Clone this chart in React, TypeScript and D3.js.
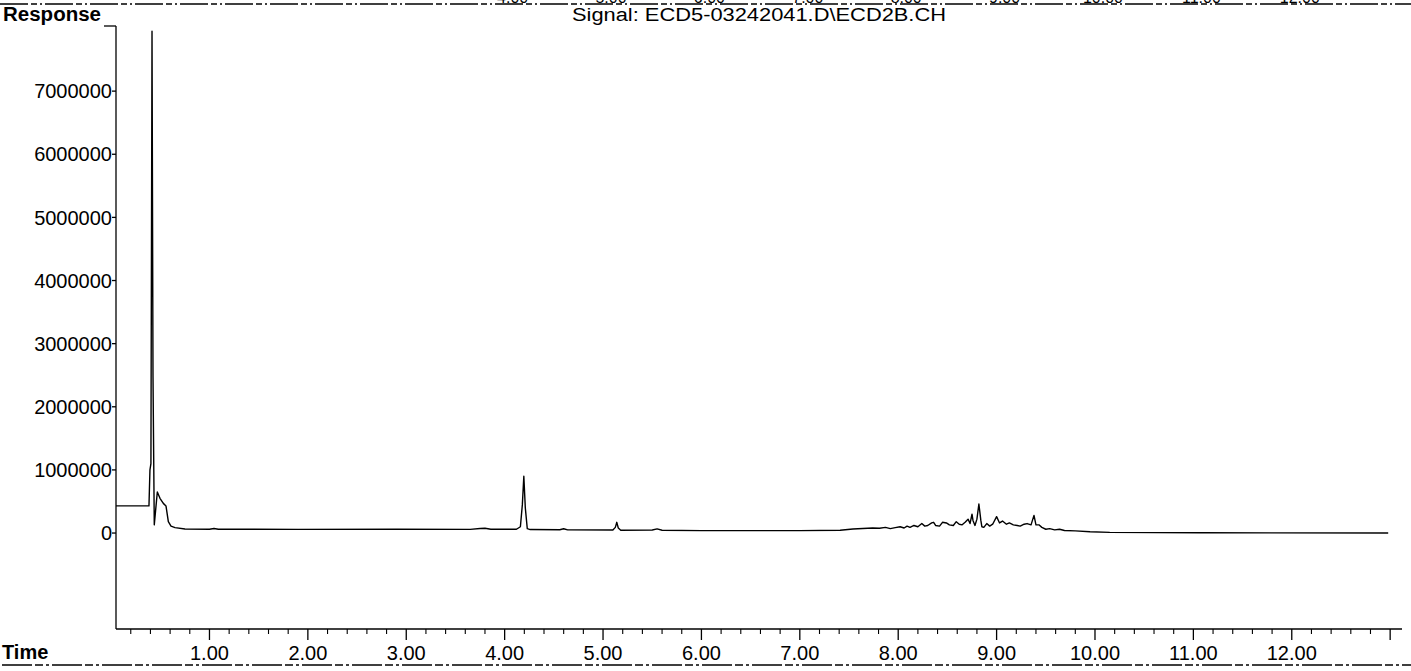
import React from "react";
import * as d3 from "d3";

// Retention time (min) and detector response
const times = [
  0.05, 0.385, 0.395, 0.405, 0.416, 0.426, 0.439, 0.47, 0.497, 0.531, 0.558, 0.582, 0.609, 0.65, 0.751,
  1.0, 1.046, 1.09, 1.9, 2.9, 3.65, 3.75, 3.8, 3.86, 4.12, 4.16, 4.18, 4.195, 4.21, 4.23, 4.26,
  4.56, 4.6, 4.64, 5.1, 5.125, 5.14, 5.155, 5.18, 5.5, 5.55, 5.6, 6.0, 7.0, 7.41, 7.54, 7.74,
  7.81, 7.87, 7.92, 7.97, 8.02, 8.06, 8.09, 8.12, 8.16, 8.2, 8.24, 8.27, 8.3, 8.34, 8.36, 8.38,
  8.42, 8.45, 8.49, 8.52, 8.56, 8.59, 8.62, 8.65, 8.68, 8.71, 8.73, 8.75, 8.76, 8.78, 8.8, 8.82,
  8.84, 8.85, 8.87, 8.9, 8.93, 8.96, 9.0, 9.03, 9.06, 9.1, 9.13, 9.17, 9.21, 9.24, 9.28, 9.31,
  9.35, 9.38, 9.4, 9.43, 9.46, 9.5, 9.54, 9.59, 9.64, 9.69, 9.8, 9.95, 10.15, 11.07, 12.98,
];
const responses = [
  430000, 430000, 1000000, 1100000, 7950000, 2500000, 130000, 650000, 550000, 470000, 430000, 180000, 110000, 85000, 65000,
  60000, 72000, 60000, 58000, 60000, 58000, 72000, 75000, 60000, 60000, 100000, 450000, 900000, 400000, 70000, 55000,
  52000, 68000, 50000, 48000, 90000, 170000, 80000, 45000, 48000, 65000, 45000, 38000, 38000, 45000, 65000, 80000,
  75000, 90000, 70000, 85000, 100000, 80000, 110000, 90000, 120000, 100000, 150000, 110000, 120000, 160000, 170000, 120000,
  110000, 170000, 160000, 130000, 120000, 180000, 140000, 130000, 170000, 220000, 150000, 300000, 200000, 120000, 220000, 460000,
  200000, 100000, 90000, 150000, 110000, 140000, 260000, 160000, 190000, 140000, 160000, 130000, 120000, 110000, 140000, 150000,
  130000, 280000, 130000, 130000, 90000, 60000, 70000, 50000, 60000, 40000, 35000, 20000, 10000, 5000, 0,
];

const yTicks = [0, 1000000, 2000000, 3000000, 4000000, 5000000, 6000000, 7000000];
const xMajor = [1, 2, 3, 4, 5, 6, 7, 8, 9, 10, 11, 12, 13];
const xLabels = ["1.00", "2.00", "3.00", "4.00", "5.00", "6.00", "7.00", "8.00", "9.00", "10.00", "11.00", "12.00"];
const topStripLabels = ["4.00", "5.00", "6.00", "7.00", "8.00", "9.00", "10.00", "11.00", "12.00"];
const topStripValues = [4, 5, 6, 7, 8, 9, 10, 11, 12];
const signalTitle = "Signal: ECD5-03242041.D\\ECD2B.CH";

const W = 1411;
const H = 671;
const FONT = "'Liberation Sans', Arial, Helvetica, sans-serif";

export default function App() {
  const x = d3.scaleLinear().domain([0.05, 13.1]).range([116, 1400]);
  const y = d3.scaleLinear().domain([-1520000, 8000000]).range([629, 28]);
  const axisY = 629;
  const axisX = 116;

  const pts = times.map((t, i) => [t, responses[i]] as [number, number]);
  const line = d3
    .line<[number, number]>()
    .x((d) => x(d[0]))
    .y((d) => y(d[1]));

  const minor: number[] = [];
  for (let k = 1; k <= 65; k++) {
    const v = k * 0.2;
    if (k % 5 !== 0) minor.push(+v.toFixed(2));
  }

  return (
    <svg
      width={W}
      height={H}
      style={{ position: "absolute", left: 0, top: 0, background: "#fff" }}
      fontFamily={FONT}
    >
      <rect x={0} y={0} width={W} height={H} fill="#fff" />
      {/* cut-off labels from the previous page at top */}
      <g>
        {topStripLabels.map((s, i) => (
          <text key={s} x={x(topStripValues[i]) + 8} y={3} fontSize={16} textAnchor="middle" fill="#000">
            {s}
          </text>
        ))}
        <line x1={0} x2={W} y1={4} y2={4} stroke="#000" strokeWidth={1.3} strokeDasharray="28 3 6 3 2 3" />
      </g>

      {/* Title */}
      <text x={572} y={21} fontSize={18} fill="#000" textLength={374} lengthAdjust="spacingAndGlyphs">
        {signalTitle}
      </text>

      {/* Response label */}
      <text x={3} y={21} fontSize={20} fontWeight="bold" fill="#000" textLength={98} lengthAdjust="spacingAndGlyphs">
        Response
      </text>
      <line x1={104} x2={axisX} y1={26} y2={26} stroke="#000" strokeWidth={1.3} />

      {/* Y axis */}
      <line x1={axisX} x2={axisX} y1={26} y2={axisY} stroke="#000" strokeWidth={1.3} />
      {yTicks.map((v) => (
        <g key={v}>
          <line x1={axisX - 4} x2={axisX} y1={y(v)} y2={y(v)} stroke="#000" strokeWidth={1.3} />
          <text x={axisX - 4} y={y(v)} dy="0.36em" fontSize={20} textAnchor="end" fill="#000">
            {String(v)}
          </text>
        </g>
      ))}

      {/* X axis */}
      <line x1={axisX} x2={1402} y1={axisY} y2={axisY} stroke="#000" strokeWidth={1.3} />
      {minor.map((v) => (
        <line key={"m" + v} x1={x(v)} x2={x(v)} y1={axisY} y2={axisY + 5} stroke="#000" strokeWidth={1.1} />
      ))}
      {xMajor.map((v) => (
        <line key={"M" + v} x1={x(v)} x2={x(v)} y1={axisY} y2={axisY + 11} stroke="#000" strokeWidth={1.3} />
      ))}
      {xLabels.map((s, i) => (
        <text key={s} x={x(xMajor[i])} y={660} fontSize={20} textAnchor="middle" fill="#000">
          {s}
        </text>
      ))}
      <text x={2} y={659} fontSize={20} fontWeight="bold" fill="#000">
        Time
      </text>
      <line x1={2} x2={W} y1={665} y2={665} stroke="#000" strokeWidth={1.4} strokeDasharray="30 3 8 3 3 3" />

      {/* Chromatogram trace */}
      <path d={line(pts) || ""} fill="none" stroke="#000" strokeWidth={1.4} strokeLinejoin="round" />
    </svg>
  );
}
